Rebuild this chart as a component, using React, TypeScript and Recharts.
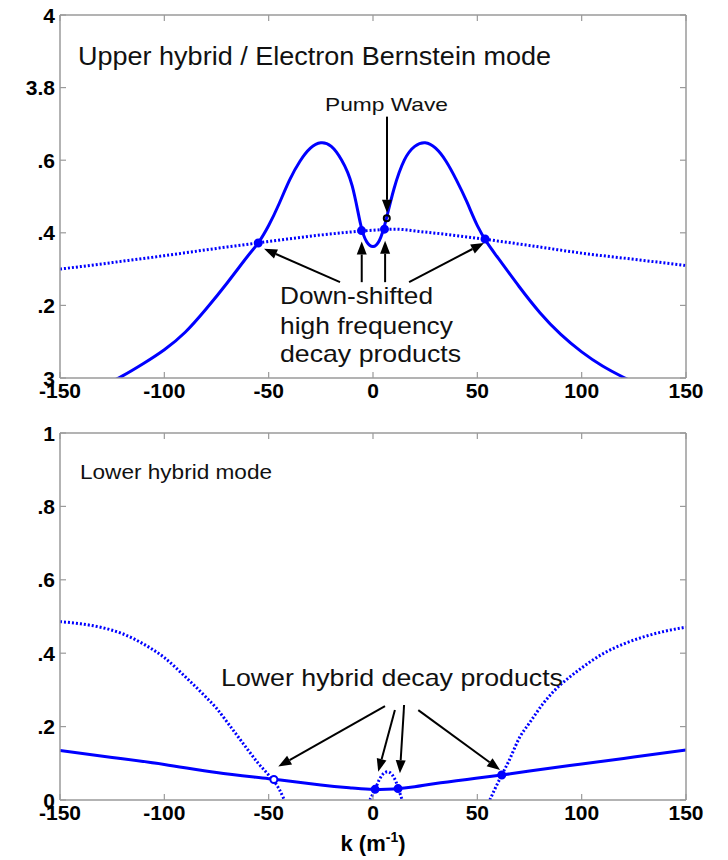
import { ComposedChart, Line, XAxis, YAxis } from 'recharts';

const BLUE = '#0000ff';
const AXIS_GREY = '#9a9a9a';
const FONT = '"Liberation Sans", Arial, Helvetica, sans-serif';

const K_TICKS = [-150, -100, -50, 0, 50, 100, 150];

const UH_TICKS = [3, 3.2, 3.4, 3.6, 3.8, 4];
const UH_TICK_LABELS = ['3', '.2', '.4', '.6', '3.8', '4'];
const LH_TICKS = [0, 0.2, 0.4, 0.6, 0.8, 1];
const LH_TICK_LABELS = ['0', '.2', '.4', '.6', '.8', '1'];

// upper hybrid / electron Bernstein branch (solid); the ends dip below the axis and get clipped
const UH_K = [-150, -140, -130, -120, -110, -100, -90, -80, -70, -60, -55, -50, -45, -40, -35, -30, -25, -20, -15, -10, -6, -3, 0, 3, 6, 10, 15, 20, 25, 30, 35, 40, 45, 50, 55, 60, 70, 80, 90, 100, 110, 120, 130, 140, 150];
const UH_W = [2.925, 2.95, 2.977, 3.006, 3.04, 3.078, 3.126, 3.19, 3.261, 3.336, 3.372, 3.42, 3.48, 3.545, 3.597, 3.633, 3.648, 3.638, 3.6, 3.53, 3.425, 3.375, 3.362, 3.378, 3.43, 3.52, 3.6, 3.638, 3.648, 3.633, 3.597, 3.545, 3.485, 3.42, 3.37, 3.33, 3.252, 3.18, 3.12, 3.072, 3.033, 3.002, 2.975, 2.95, 2.925];

// pump minus ion-acoustic line (dotted)
const UH_BEAT_K = [-150, -125, -100, -75, -50, -25, 0, 10, 25, 50, 75, 100, 125, 150];
const UH_BEAT_W = [3.3, 3.318, 3.337, 3.357, 3.376, 3.394, 3.407, 3.41, 3.402, 3.385, 3.365, 3.344, 3.327, 3.31];

const UH_HIT_K = [-55, -5.5, 5.5, 53.7];
const UH_HIT_W = [3.372, 3.406, 3.41, 3.383];
const PUMP_K = [6.6];
const PUMP_W = [3.44];

// lower hybrid branch (solid)
const LH_K = [-150, -125, -100, -75, -50, -25, -10, 0, 10, 20, 30, 45, 61.7, 75, 100, 125, 150];
const LH_W = [0.135, 0.116, 0.097, 0.075, 0.058, 0.041, 0.033, 0.029, 0.03, 0.036, 0.045, 0.056, 0.068, 0.079, 0.098, 0.117, 0.136];

// dotted beat curves in the lower panel
const LH_BEAT_L_K = [-150, -140, -130, -120, -110, -100, -90, -80, -75, -70, -65, -60, -55, -50, -45, -42.5];
const LH_BEAT_L_W = [0.486, 0.48, 0.47, 0.453, 0.425, 0.388, 0.336, 0.28, 0.25, 0.213, 0.175, 0.137, 0.1, 0.068, 0.03, 0];
const LH_BEAT_M_K = [-1.5, 1, 3, 5, 7, 9, 11, 12.5, 14];
const LH_BEAT_M_W = [0, 0.029, 0.055, 0.072, 0.077, 0.07, 0.05, 0.025, 0];
const LH_BEAT_R_K = [56, 58, 61.7, 65, 70.5, 75, 81.7, 90, 94.5, 100, 110, 120, 130, 140, 150];
const LH_BEAT_R_W = [0, 0.025, 0.068, 0.105, 0.173, 0.21, 0.264, 0.315, 0.336, 0.36, 0.398, 0.425, 0.445, 0.46, 0.471];

const LH_OPEN_K = [-47.5];
const LH_OPEN_W = [0.056];
const LH_HIT_K = [1, 12, 61.7];
const LH_HIT_W = [0.029, 0.031, 0.068];

// annotation arrows: [tail k, tail w, tip k, tip w]
const UH_ARROWS = [
  [6.7, 3.72, 6.7, 3.455],
  [-15.8, 3.264, -52.2, 3.356],
  [-5.4, 3.264, -5.4, 3.376],
  [5.8, 3.264, 5.8, 3.378],
  [17.3, 3.264, 53.2, 3.372],
];
const LH_ARROWS = [
  [5.75, 0.256, -45.4, 0.091],
  [10.5, 0.245, 2.5, 0.077],
  [14.9, 0.259, 12.9, 0.073],
  [21.7, 0.245, 60.9, 0.082],
];

const zip = (ks: number[], ws: number[]) => ks.map((k, i) => ({ k, v: ws[i] }));

// plot area in page pixels, used by the annotation overlay
const X0 = 60;
const X1 = 686;
const UH_TOP = 15;
const UH_BOT = 378;
const LH_TOP = 433;
const LH_BOT = 800;
const kx = (k: number) => X0 + ((k + 150) / 300) * (X1 - X0);
const uhY = (w: number) => UH_BOT - (w - 3) * (UH_BOT - UH_TOP);
const lhY = (w: number) => LH_BOT - w * (LH_BOT - LH_TOP);

const tickText = { fontFamily: FONT, fontSize: 21, fontWeight: 700, fill: '#000' };

const BottomTick = ({ x, y, payload }: any) => (
  <g>
    <line x1={x} x2={x} y1={y - 5} y2={y - 11} stroke={AXIS_GREY} strokeWidth={1.2} />
    <text x={x} y={y} dy="0.71em" textAnchor="middle" style={tickText}>
      {payload.value}
    </text>
  </g>
);

const makeLeftTick = (ticks: number[], labels: string[]) => ({ x, y, payload }: any) => (
  <g>
    <line x1={x + 5} x2={x + 11} y1={y} y2={y} stroke={AXIS_GREY} strokeWidth={1.2} />
    <text x={x} y={y} dy="0.36em" textAnchor="end" style={tickText}>
      {labels[ticks.indexOf(payload.value)]}
    </text>
  </g>
);

const TopTick = ({ x, y }: any) => (
  <line x1={x} x2={x} y1={y} y2={y + 6} stroke={AXIS_GREY} strokeWidth={1.2} />
);
const RightTick = ({ x, y }: any) => (
  <line x1={x} x2={x - 6} y1={y} y2={y} stroke={AXIS_GREY} strokeWidth={1.2} />
);

const axisLine = { stroke: AXIS_GREY, strokeWidth: 1.5 };

function Panel({ top, height, margin, yDomain, yTicks, yLabels, children }: any) {
  return (
    <div style={{ position: 'absolute', left: 0, top }}>
      <ComposedChart width={728} height={height} margin={margin}>
        <XAxis dataKey="k" type="number" domain={[-150, 150]} ticks={K_TICKS} interval={0}
          allowDataOverflow height={40} tickSize={0} tickMargin={5} tickLine={false}
          axisLine={axisLine} tick={BottomTick} />
        <XAxis xAxisId="t" orientation="top" dataKey="k" type="number" domain={[-150, 150]}
          ticks={K_TICKS} interval={0} allowDataOverflow height={1} tickSize={0} tickMargin={0}
          tickLine={false} axisLine={axisLine} tick={TopTick} />
        <YAxis type="number" domain={yDomain} ticks={yTicks} interval={0} allowDataOverflow
          width={60} tickSize={0} tickMargin={5} tickLine={false} axisLine={axisLine}
          tick={makeLeftTick(yTicks, yLabels)} />
        <YAxis yAxisId="r" orientation="right" type="number" domain={yDomain} ticks={yTicks}
          interval={0} allowDataOverflow width={1} tickSize={0} tickMargin={0} tickLine={false}
          axisLine={axisLine} tick={RightTick} />
        {children}
      </ComposedChart>
    </div>
  );
}

const solid = { type: 'natural' as const, dataKey: 'v', stroke: BLUE, strokeWidth: 3, dot: false, isAnimationActive: false };
const dotted = { ...solid, type: 'monotone' as const, strokeDasharray: '2 2' };
// marker series sit on the top/right axes, which share the same domains
const markers = (fill: string, stroke: string, r: number) => ({
  dataKey: 'v', xAxisId: 't', yAxisId: 'r', stroke: 'none', isAnimationActive: false,
  dot: { r, fill, stroke, strokeWidth: 2 }, activeDot: false,
});

function Arrow({ x1, y1, x2, y2 }: { x1: number; y1: number; x2: number; y2: number }) {
  const a = Math.atan2(y2 - y1, x2 - x1);
  const len = 13;
  const half = 5;
  const bx = x2 - len * Math.cos(a);
  const by = y2 - len * Math.sin(a);
  const px = -Math.sin(a) * half;
  const py = Math.cos(a) * half;
  return (
    <g>
      <line x1={x1} y1={y1} x2={bx} y2={by} stroke="#000" strokeWidth={2} />
      <polygon points={`${x2},${y2} ${bx + px},${by + py} ${bx - px},${by - py}`} fill="#000" />
    </g>
  );
}

const label = { fontFamily: FONT, fill: '#111' };

export default function App() {
  return (
    <div style={{ position: 'absolute', left: 0, top: 0, width: 728, height: 860, background: '#fff', overflow: 'hidden' }}>
      <Panel top={0} height={420} margin={{ top: 14, right: 41, left: 0, bottom: 2 }}
        yDomain={[3, 4]} yTicks={UH_TICKS} yLabels={UH_TICK_LABELS}>
        <Line {...dotted} data={zip(UH_BEAT_K, UH_BEAT_W)} />
        <Line {...solid} data={zip(UH_K, UH_W)} />
        <Line {...markers(BLUE, BLUE, 3.5)} data={zip(UH_HIT_K, UH_HIT_W)} />
        <Line {...markers('none', '#000', 3)} data={zip(PUMP_K, PUMP_W)} />
      </Panel>
      <Panel top={420} height={440} margin={{ top: 12, right: 41, left: 0, bottom: 20 }}
        yDomain={[0, 1]} yTicks={LH_TICKS} yLabels={LH_TICK_LABELS}>
        <Line {...dotted} data={zip(LH_BEAT_L_K, LH_BEAT_L_W)} />
        <Line {...dotted} data={zip(LH_BEAT_M_K, LH_BEAT_M_W)} />
        <Line {...dotted} data={zip(LH_BEAT_R_K, LH_BEAT_R_W)} />
        <Line {...solid} data={zip(LH_K, LH_W)} />
        <Line {...markers('#fff', BLUE, 3.5)} data={zip(LH_OPEN_K, LH_OPEN_W)} />
        <Line {...markers(BLUE, BLUE, 3.5)} data={zip(LH_HIT_K, LH_HIT_W)} />
      </Panel>

      <svg width={728} height={860} style={{ position: 'absolute', left: 0, top: 0, pointerEvents: 'none' }}>
        <text x={78} y={65} fontSize={25} textLength={473} lengthAdjust="spacingAndGlyphs" style={label}>
          Upper hybrid / Electron Bernstein mode
        </text>
        <text x={325} y={111} fontSize={18.5} textLength={123} lengthAdjust="spacingAndGlyphs" style={label}>
          Pump Wave
        </text>
        <text x={280} y={304} fontSize={24} textLength={153} lengthAdjust="spacingAndGlyphs" style={label}>
          Down-shifted
        </text>
        <text x={280} y={334} fontSize={24} textLength={173} lengthAdjust="spacingAndGlyphs" style={label}>
          high frequency
        </text>
        <text x={280} y={362} fontSize={24} textLength={181} lengthAdjust="spacingAndGlyphs" style={label}>
          decay products
        </text>
        {UH_ARROWS.map(([k1, w1, k2, w2], i) => (
          <Arrow key={`u${i}`} x1={kx(k1)} y1={uhY(w1)} x2={kx(k2)} y2={uhY(w2)} />
        ))}

        <text x={80} y={479} fontSize={20} textLength={192} lengthAdjust="spacingAndGlyphs" style={label}>
          Lower hybrid mode
        </text>
        <text x={221} y={686} fontSize={24} textLength={342} lengthAdjust="spacingAndGlyphs" style={label}>
          Lower hybrid decay products
        </text>
        {LH_ARROWS.map(([k1, w1, k2, w2], i) => (
          <Arrow key={`l${i}`} x1={kx(k1)} y1={lhY(w1)} x2={kx(k2)} y2={lhY(w2)} />
        ))}

        <text x={373} y={851} textAnchor="middle" style={{ ...label, fill: '#000', fontSize: 22, fontWeight: 700 }}>
          k (m<tspan dy={-9} fontSize={14}>-1</tspan><tspan dy={9}>)</tspan>
        </text>
      </svg>
    </div>
  );
}
